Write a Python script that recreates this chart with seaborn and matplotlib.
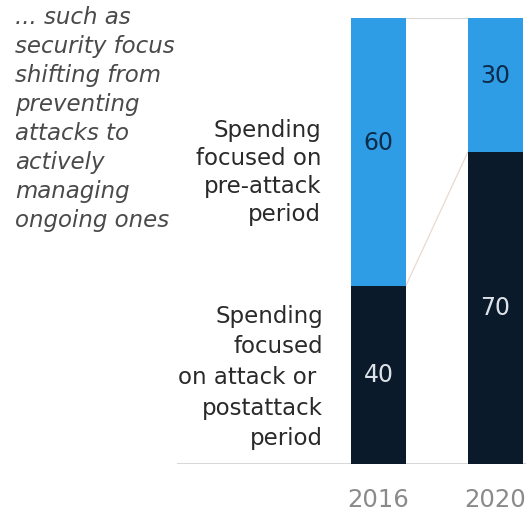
import matplotlib
matplotlib.use("Agg")
import matplotlib.pyplot as plt
import seaborn as sns
import pandas as pd

years = ["2016", "2020"]
attack = [40, 70]        # spending focused on attack or postattack period
pre_attack = [60, 30]    # spending focused on pre-attack period
intro_text = "... such as\nsecurity focus\nshifting from\npreventing\nattacks to\nactively\nmanaging\nongoing ones"
pre_label = "Spending\nfocused on\npre-attack\nperiod"
post_label = "Spending\nfocused\non attack or \npostattack\nperiod"

LIGHT = "#2E9DE6"
DARK = "#0B1A2A"

sns.set_theme(style="white")
plt.rcParams["font.family"] = ["DejaVu Sans"]

df = pd.DataFrame({"year": years, "attack": attack, "pre": pre_attack})
df["total"] = df["attack"] + df["pre"]

fig = plt.figure(figsize=(5.26, 5.12), dpi=100)
ax = fig.add_axes([177 / 526, 48 / 512, 349 / 526, 446 / 512])

W = 0.47
sns.barplot(data=df, x="year", y="total", color=LIGHT, width=W, saturation=1, linewidth=0, ax=ax)
sns.barplot(data=df, x="year", y="attack", color=DARK, width=W, saturation=1, linewidth=0, ax=ax)

ax.set_xlim(-1.722, 1.261)
ax.set_ylim(0, 100)
for s in ax.spines.values():
    s.set_visible(False)
ax.set_xlabel("")
ax.set_ylabel("")
ax.set_yticks([])
ax.tick_params(axis="x", length=0, pad=17, labelsize=17.5, labelcolor="#8A8A8A")
ax.axhline(0, color="#CFCFCF", lw=1.2, zorder=0)

# connector lines between bars
x0 = 0 + W / 2
x1 = 1 - W / 2
ax.plot([x0, x1], [df["total"][0], df["total"][1]], color="#D9D9D9", lw=0.9, zorder=0)
ax.plot([x0, x1], [attack[0], attack[1]], color="#EBD9CF", lw=0.9, zorder=0)

# value labels
for i in range(len(years)):
    ax.text(i, attack[i] + pre_attack[i] / 2 + 2, str(pre_attack[i]), ha="center", va="center",
            fontsize=17, color="#0D2B4A")
    ax.text(i, attack[i] / 2, str(attack[i]), ha="center", va="center",
            fontsize=17, color="#DDE2E8")

# side texts
fig.text(15 / 526, 1 - 119 / 512, intro_text, ha="left", va="center", fontsize=16.5,
         style="italic", color="#4A4A4A", linespacing=1.33)
fig.text(321 / 526, 1 - 172.5 / 512, pre_label, ha="right", va="center", fontsize=16.5,
         color="#2A2A2A", linespacing=1.27)
fig.text(323 / 526, 1 - 377.5 / 512, post_label, ha="right", va="center", fontsize=16.5,
         color="#2A2A2A", linespacing=1.42)

fig.savefig("out.png", dpi=100, facecolor="white")
